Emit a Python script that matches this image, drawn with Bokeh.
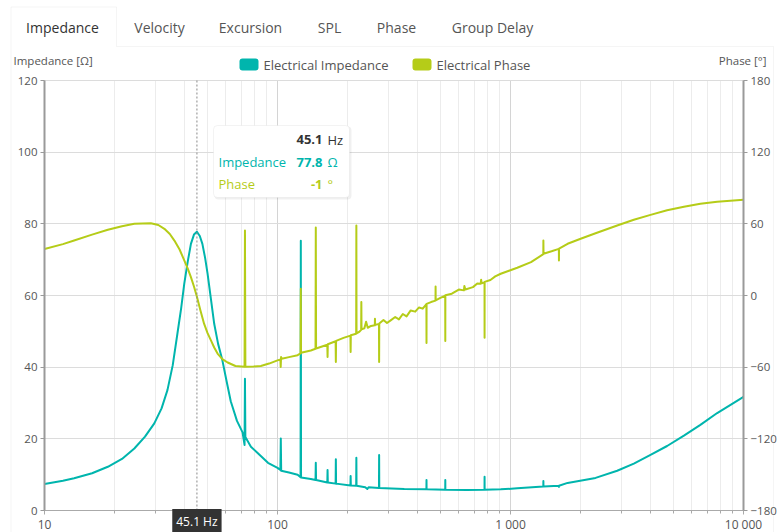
from bokeh.plotting import figure
from bokeh.models import (Range1d, LinearAxis, FixedTicker, Label, BoxAnnotation,
                          PolyAnnotation, Grid)
from bokeh.embed import file_html
from bokeh.resources import INLINE

# ---- data -------------------------------------------------------------
tab_names = ["Impedance", "Velocity", "Excursion", "SPL", "Phase", "Group Delay"]
series_names = ["Electrical Impedance", "Electrical Phase"]

imp_freq = [10, 12, 13.4, 16, 18.7, 21.5, 24.3, 27, 29.6, 31.8, 33.7, 35.5, 37.2, 38.6,
            39.8, 41.2, 42.5, 43.8, 45.1, 46.4, 47.6, 48.9, 50.1, 51.8, 53.5, 55.6, 58.0,
            60.5, 63.0, 67.0, 70.8, 72.2, 72.5, 72.8, 76.9, 84.8, 91.0, 100.0,
            102.9, 103.3, 103.7, 112, 122, 125.6, 125.9, 126.2, 139,
            145.6, 146.0, 146.4, 163.6, 164.0, 164.4, 177.6, 178.0, 178.4,
            205.6, 206.0, 206.4, 217.6, 218.0, 218.4, 238, 243, 246,
            272.6, 273.0, 273.4, 350, 435.6, 436.0, 436.4, 524.6, 525.0, 525.4,
            650, 773.6, 774.0, 774.4, 908, 1069, 1383, 1384, 1385, 1613, 1614, 1615,
            1758, 2318, 2870, 3383, 3990, 4700, 5550, 6530, 7710, 10000]
imp_ohm = [7.4, 8.3, 9.0, 10.4, 12.2, 14.4, 17.3, 20.6, 24.3, 28.5, 33.6, 40.5, 49.4, 56.5,
           63.3, 69.5, 74.4, 77.0, 77.8, 76.6, 74.4, 70.5, 66.1, 59.0, 52.1, 46.5, 41.9,
           36.0, 30.5, 25.0, 21.8, 18.3, 36.8, 20.5, 17.8, 15.2, 13.3, 11.9,
           11.3, 20.1, 11.1, 10.6, 10.0, 9.3, 75.3, 9.2, 8.8,
           8.5, 13.3, 8.5, 7.8, 11.3, 7.8, 7.5, 14.3, 7.5,
           7.0, 9.6, 7.0, 6.9, 14.7, 6.9, 6.5, 6.0, 6.5,
           6.3, 15.5, 6.3, 6.0, 5.9, 8.5, 5.9, 5.8, 8.5, 5.8,
           5.7, 5.8, 9.4, 5.8, 5.9, 6.2, 6.7, 8.2, 6.7, 6.9, 6.6, 6.9,
           7.7, 9.1, 11.1, 13.1, 15.5, 18.0, 20.9, 23.9, 27.2, 31.7]

phase_freq = [10, 12, 13.4, 16, 18.7, 21.5, 24.3, 28.6, 30.8, 32.7, 34.5, 36.1, 38.0, 39.8,
              41.2, 42.5, 43.8, 45.1, 46.7, 48.4, 50.1, 51.8, 53.5, 55.3, 58.0, 61.1, 66.0,
              72.2, 72.5, 72.8, 79, 84.8, 92, 100, 102.9, 103.2, 103.6, 104.2, 112, 122,
              125.6, 125.9, 126.2, 139, 145.6, 146.0, 146.4, 163.6, 164.0, 164.4,
              177.6, 178.0, 178.4, 192, 205.6, 206.0, 206.4, 217.6, 218.0, 218.4, 224,
              228.6, 229.0, 229.4, 236, 240, 244, 252, 261.6, 262.0, 262.4,
              272.6, 273.0, 273.4, 285, 295, 306, 320, 332, 345, 358, 373, 390, 405, 420,
              435.6, 436.0, 436.4, 456, 476.6, 477.0, 477.4, 500, 524.6, 525.0, 525.4,
              560, 600, 631, 634, 640, 690, 720, 745, 748, 752, 773.6, 774.0, 774.4,
              820, 860, 908, 1069, 1225, 1383, 1384, 1386, 1500, 1613, 1614, 1616,
              1758, 2000, 2318, 2870, 3383, 3990, 4700, 5550, 6530, 7710, 10000]
phase_deg = [39, 43, 46, 51, 55, 58, 60, 60.5, 59.0, 55.8, 51.5, 46, 38.5, 29.4,
             22.5, 15.4, 7.5, -1, -12.5, -23.6, -31.5, -37.6, -43.5, -48.6, -53.3, -56.1, -59.0,
             -59.6, 54.4, -59.6, -59.4, -59, -57.0, -54.3, -53.5, -59.9, -51.5, -53.0, -51.6, -50,
             -48.5, 5.7, -48.0, -46, -44.6, 57, -44.4, -41.2, -51.5, -40.8,
             -38.3, -55.7, -38.0, -35.5, -33.6, -47.3, -33.3, -32.0, 58.6, -31.8, -30.5,
             -28.8, -5.5, -28.3, -27.5, -22, -27, -25.5, -25.0, -19.4, -24.6,
             -23.8, -55.7, -23.4, -20.5, -23, -20.8, -18, -20, -15.5, -17.5, -12.5, -13.5, -10, -11,
             -7.2, -39.8, -7, -5.5, -4.3, 7.6, -4.0, -2.0, -0.2, -38.1, 0.2,
             1.5, 5, 4.3, 8, 5, 7, 10, 9.9, 13.2, 10.2, 11.0, -35.3, 11.4,
             13, 16, 18.2, 23.2, 27.9, 34.6, 46, 35, 37, 39, 29.4, 39.2,
             43.3, 47.5, 52.1, 58.6, 63.4, 67.5, 71.4, 74.3, 76.8, 78.4, 80.1]

x_ticks = [10, 100, 1000, 10000]
x_tick_labels = ["10", "100", "1 000", "10 000"]
x_minor_ticks = [m * d for d in (10, 100, 1000) for m in range(2, 10)]
imp_ticks = [0, 20, 40, 60, 80, 100, 120]
phase_ticks = [-180, -120, -60, 0, 60, 120, 180]
f_lo, f_hi = 10, 10000
imp_lo, imp_hi = 0, 120
ph_lo, ph_hi = -180, 180

cursor_freq = 45.1
cursor_imp = 77.8
cursor_phase = -1

# ---- styling ----------------------------------------------------------
TEAL = "#00b5ad"
OLIVE = "#b5cc18"
FONT = "Open Sans"
TICK_COLOR = "#555555"
AXIS_COLOR = "#9a9a9a"

W, H = 777, 532
# pixel box of the plotting area inside the canvas
PL, PR, PT, PB = 44, 743, 80, 510


def px_x(px):
    """Canvas pixel column -> frequency on the log axis."""
    return 10 ** (1 + 3 * (px - PL) / (PR - PL))


def px_y(py):
    """Canvas pixel row -> impedance units on the left axis."""
    return imp_hi * (PB - py) / (PB - PT)


def imp_to_phase(v):
    return ph_lo + (v - imp_lo) * (ph_hi - ph_lo) / (imp_hi - imp_lo)


def text(px, py, s, align="left", size="13px", color="#555555", style="normal"):
    p.add_layout(Label(x=px_x(px), y=px_y(py), text=s, text_align=align,
                       text_baseline="middle", text_font=FONT, text_font_size=size,
                       text_font_style=style, text_color=color))


def box(l, r, t, b, fill, line=None, radius=0, alpha=1.0, level="annotation"):
    p.add_layout(BoxAnnotation(left=px_x(l), right=px_x(r), top=px_y(t), bottom=px_y(b),
                               fill_color=fill, fill_alpha=alpha, line_color=line,
                               line_width=1, border_radius=radius, level=level))


# The frame spans the whole canvas; axes sit at fixed data locations.
p = figure(width=W, height=H, x_axis_type="log",
           x_range=Range1d(px_x(0), px_x(W)), y_range=Range1d(px_y(H), px_y(0)),
           output_backend="svg", toolbar_location=None,
           min_border=0, background_fill_color="white", border_fill_color="white")
p.title.visible = False
p.outline_line_color = None
p.extra_y_ranges = {"phase": Range1d(imp_to_phase(px_y(H)), imp_to_phase(px_y(0)))}

bottom = p.below[0]
bottom.fixed_location = imp_lo
bottom.bounds = (f_lo, f_hi)
bottom.ticker = FixedTicker(ticks=x_ticks, minor_ticks=x_minor_ticks)
bottom.major_label_overrides = dict(zip(x_ticks, x_tick_labels))
bottom.axis_line_color = "#aaaaaa"
bottom.major_tick_line_color = "#aaaaaa"
bottom.minor_tick_line_color = "#aaaaaa"
bottom.major_tick_in = 0
bottom.major_tick_out = 4
bottom.minor_tick_in = 0
bottom.minor_tick_out = 3
bottom.major_label_standoff = 1
bottom.major_label_text_font = FONT
bottom.major_label_text_font_size = "12px"
bottom.major_label_text_color = TICK_COLOR

left = p.left[0]
left.fixed_location = f_lo
left.bounds = (imp_lo, imp_hi)
left.ticker = FixedTicker(ticks=imp_ticks)
right = LinearAxis(y_range_name="phase", ticker=FixedTicker(ticks=phase_ticks),
                   fixed_location=f_hi, bounds=(ph_lo, ph_hi))
p.add_layout(right, "right")
for ax in (left, right):
    ax.axis_line_color = AXIS_COLOR
    ax.axis_line_width = 2
    ax.major_tick_line_color = AXIS_COLOR
    ax.major_tick_in = 0
    ax.major_tick_out = 4
    ax.minor_tick_in = 0
    ax.minor_tick_out = 0
    ax.major_label_standoff = 3
    ax.major_label_text_font = FONT
    ax.major_label_text_font_size = "11.5px"
    ax.major_label_text_color = TICK_COLOR

# grid, kept inside the plotting area
xg, yg = p.xgrid[0], p.ygrid[0]
xg.ticker = bottom.ticker
yg.ticker = left.ticker
xg.bounds = (f_lo, f_hi)
yg.bounds = (imp_lo, imp_hi)
if "cross_bounds" in Grid.properties():
    xg.cross_bounds = (imp_lo, imp_hi)
    yg.cross_bounds = (f_lo, f_hi)
xg.grid_line_color = "#d4d4d4"
xg.minor_grid_line_color = "#ececec"
yg.grid_line_color = "#dcdcdc"

# tab strip and panel outline
p.add_layout(PolyAnnotation(
    xs=[px_x(10.5), px_x(10.5), px_x(116), px_x(116), px_x(773), px_x(773)],
    ys=[px_y(560), px_y(6.5), px_y(6.5), px_y(46), px_y(46), px_y(560)],
    fill_color=None, line_color="#dddddd", line_width=1, level="underlay"))
tab_centers = [62, 159, 250, 329, 396, 492]
for i, (name, cx) in enumerate(zip(tab_names, tab_centers)):
    text(cx, 27, name, align="center", size="14px",
         color="#333333" if i == 0 else "#555555")

# axis titles
text(13, 60, "Impedance [Ω]", size="11.5px")
text(766, 60, "Phase [°]", align="right", size="11.5px")

# legend
for (sw_l, name), col in zip([(239, series_names[0]), (412, series_names[1])], [TEAL, OLIVE]):
    box(sw_l, sw_l + 19, 58, 70, col, radius=3)
    text(sw_l + 24, 64, name, size="13px")

# curves
p.line(imp_freq, imp_ohm, line_color=TEAL, line_width=2, line_join="round")
p.line(phase_freq, phase_deg, line_color=OLIVE, line_width=2, line_join="round",
       y_range_name="phase")

# cursor line and its frequency tag
p.segment(x0=[cursor_freq], y0=[imp_lo], x1=[cursor_freq], y1=[imp_hi],
          line_color="#8a8a8a", line_dash="2 2", line_width=1)
p.add_layout(Label(x=cursor_freq, y=px_y(521), text=f"{cursor_freq} Hz",
                   text_align="center", text_baseline="middle", text_font=FONT,
                   text_font_size="12px", text_color="white",
                   background_fill_color="#333333", padding=4))

# cursor readout box with a soft shadow
box(214, 351, 126, 199, "#000000", radius=4, alpha=0.06)
box(213, 349, 125, 197, "white", line="#d6d6d6", radius=4)
rows = [
    (139, None, f"{cursor_freq}", "Hz", "#333333"),
    (161.5, "Impedance", f"{cursor_imp}", "Ω", TEAL),
    (183.5, "Phase", f"{cursor_phase:g}", "°", OLIVE),
]
for ry, name, val, unit, col in rows:
    if name:
        text(218, ry, name, color=col)
    text(322, ry, val, align="right", color=col, style="bold")
    text(327, ry, unit, color=col)

open("out.html", "w").write(file_html(p, INLINE))
